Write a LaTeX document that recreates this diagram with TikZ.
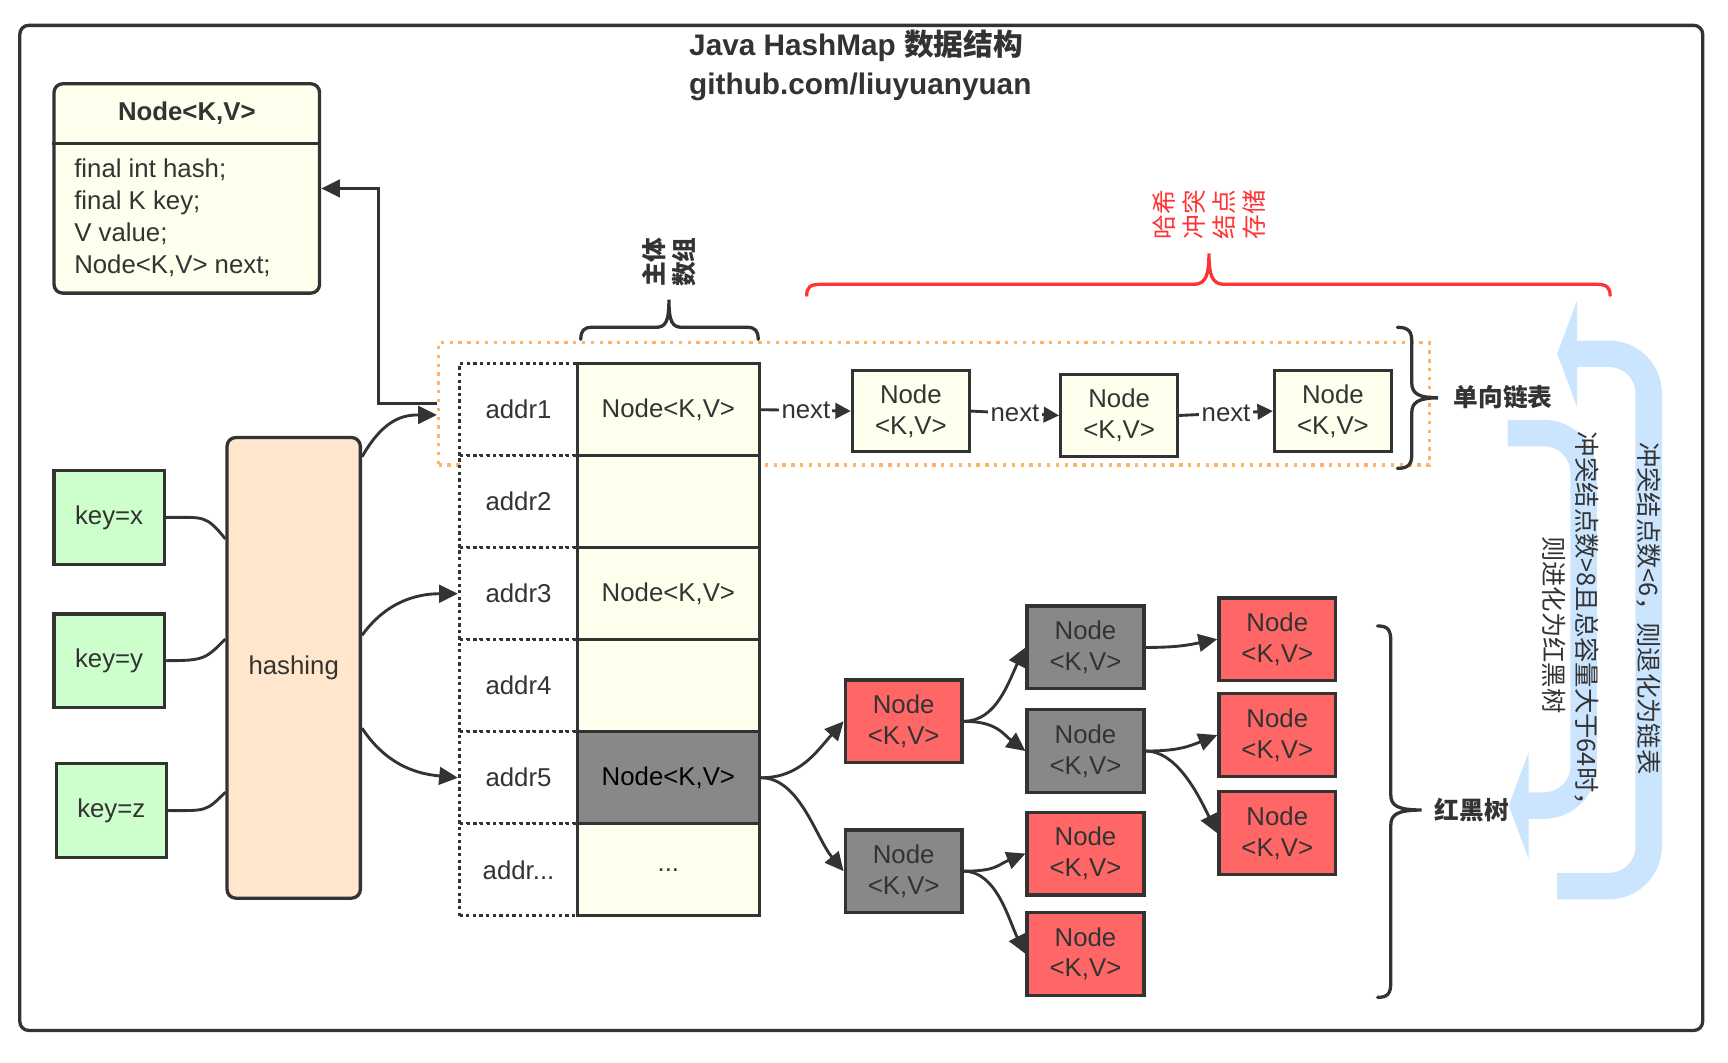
\documentclass[tikz,border=0pt]{standalone}
\usepackage{fontspec}
\setmainfont{Liberation Sans}
\newfontfamily\cjkfam{Noto Sans CJK SC}
\usepackage{tikz}
\usetikzlibrary{calc,arrows.meta}
\definecolor{ink}{RGB}{51,51,51}
\definecolor{cellyellow}{RGB}{255,255,238}
\definecolor{keygreen}{RGB}{204,255,204}
\definecolor{hashpeach}{RGB}{255,230,204}
\definecolor{rbred}{RGB}{255,102,102}
\definecolor{rbgray}{RGB}{136,136,136}
\definecolor{bucketorange}{RGB}{255,179,102}
\definecolor{bracered}{RGB}{255,51,51}
\definecolor{flowblue}{RGB}{204,229,255}
\newcommand{\txtfont}{\fontsize{11.7}{14}\selectfont}
\newcommand{\cjktxt}{\cjkfam\fontsize{11.2}{13.5}\selectfont}
\tikzset{
  box/.style={draw=ink, line width=1.5pt, align=center, text=ink, font=\txtfont, inner sep=0pt},
  keybox/.style={box, fill=keygreen, minimum width=50pt, minimum height=42.5pt},
  listnode/.style={box, fill=cellyellow, minimum width=53pt, minimum height=37pt},
  rednode/.style={box, fill=rbred, minimum width=53pt, minimum height=37.5pt},
  blacknode/.style={box, fill=rbgray, minimum width=53pt, minimum height=37.5pt},
  addrcell/.style={draw=ink, line width=1.5pt, dash pattern=on 1.5pt off 1.5pt, fill=white, text=ink, font=\txtfont, minimum width=53.5pt, minimum height=41.75pt, inner sep=0pt},
  valcell/.style={box, minimum width=82.5pt, minimum height=41.75pt},
  arr/.style={draw=ink, line width=1.3pt, -{Triangle[length=8.5pt,width=8pt]}},
  nextarr/.style={draw=ink, line width=1.3pt, -{Triangle[length=7pt,width=7pt]}},
  link/.style={draw=ink, line width=1.3pt},
  curly/.style={line width=1.5pt, line cap=round},
  flow/.style={draw=flowblue, line width=12pt, rounded corners=18pt, -{Triangle[length=9pt,width=48pt]}},
}

\begin{document}
\begin{tikzpicture}[x=0.5pt,y=0.5pt,yscale=-1,xscale=1]
\useasboundingbox (0,0) rectangle (1568,964);
%Frame
\draw[draw=ink, line width=1.5pt, rounded corners=4pt] (18,23) rectangle (1545,935);
%Title
\node[anchor=west, align=left, inner sep=0pt, text=ink, font=\bfseries\fontsize{13.5}{17.5}\selectfont] (title) at (625,59.5) {Java HashMap {\cjkfam 数据结构}\\github.com/liuyuanyuan};

%Big arrows
\draw[flow] (1413,804) -- (1496,804) -- (1496,321) -- (1413,321);
\draw[flow] (1368,393) -- (1437,393) -- (1437,731) -- (1369,731);
\node[rotate=-90, text=ink, font=\cjkfam\fontsize{11.5}{15}\selectfont] (shrinklabel) at (1496,552) {冲突结点数<6，则退化为链表};
\node[rotate=-90, align=center, text=ink, font=\cjkfam\fontsize{11.5}{15}\selectfont] (growlabel) at (1425,567) {冲突结点数>8且总容量大于64时，\\则进化为红黑树};

%Class box
\node[box, fill=cellyellow, rounded corners=4pt, minimum width=120.5pt, minimum height=95pt] (cls) at (169.5,171) {};
\coordinate (clsdiv) at (0,130);
\draw[draw=ink, line width=1.5pt] (cls.west |- clsdiv) -- (cls.east |- clsdiv);
\node[text=ink, font=\bfseries\txtfont] (clshead) at (169.5,103) {Node<K,V>};
\node[anchor=west, align=left, inner sep=0pt, text=ink, font=\fontsize{11.7}{14.5}\selectfont] (clsbody) at (67,198) {final int hash;\\final K key;\\V value;\\Node<K,V> next;};

%Bucket
\node[draw=bucketorange, line width=1.5pt, dash pattern=on 1.5pt off 2.5pt, minimum width=449.5pt, minimum height=55.5pt] (bucket) at (847.5,366.5) {};

%Array
\foreach \i/\addr/\val/\col/\tc in {1/addr1/{Node<K,V>}/cellyellow/ink, 2/addr2/{}/cellyellow/ink, 3/addr3/{Node<K,V>}/cellyellow/ink, 4/addr4/{}/cellyellow/ink, 5/addr5/{Node<K,V>}/rbgray/black}
{
  \node[addrcell] (a\i) at (470.5,{371.75+83.5*(\i-1)}) {\addr};
  \node[valcell, fill=\col, text=\tc] (v\i) at (606.5,{371.75+83.5*(\i-1)}) {\val};
}
\node[addrcell] (a6) at (470.5,789.25) {addr...};
\node[valcell, fill=cellyellow] (v6) at (606.5,789.25) {...};
\node[rotate=90, align=center, text=ink, font=\bfseries\cjktxt] (arrlabel) at (607,238) {主体\\数组};
\draw[curly, draw=ink] (527,308) .. controls (527,300) and (530,297) .. (537,297) -- (595,297) .. controls (604,297) and (607,292) .. (607,272) .. controls (607,292) and (610,297) .. (619,297) -- (678,297) .. controls (685,297) and (688,300) .. (688,308);

%Keys and hashing
\node[keybox] (kx) at (99,469.5) {key=x};
\node[keybox] (ky) at (99,599.5) {key=y};
\node[keybox] (kz) at (101,735.5) {key=z};
\node[box, fill=hashpeach, rounded corners=4pt, minimum width=60.5pt, minimum height=209pt] (hash) at (266.5,606) {hashing};
\draw[link] (kx.east) .. controls +(35,0) and +(-18,-22) .. ($(hash.north west)!0.222!(hash.south west)$);
\draw[link] (ky.east) .. controls +(35,0) and +(-18,18) .. ($(hash.north west)!0.438!(hash.south west)$);
\draw[link] (kz.east) .. controls +(35,0) and +(-18,18) .. ($(hash.north west)!0.768!(hash.south west)$);
\draw[arr] ($(hash.north east)!0.045!(hash.south east)$) .. controls +(20,-35) and +(-30,0) .. ($(bucket.west)+(0,10)$);
\draw[arr] ($(hash.north east)!0.43!(hash.south east)$) .. controls +(25,-35) and +(-30,0) .. (a3.west);
\draw[arr] ($(hash.north east)!0.63!(hash.south east)$) .. controls +(25,38) and +(-30,-3) .. (a5.west);
\draw[arr] (bucket.west) -- ++(-53,0) |- (cls.east);

%Linked list
\node[listnode] (l1) at (826.5,373) {Node\\<K,V>};
\node[listnode] (l2) at (1015.5,377) {Node\\<K,V>};
\node[listnode] (l3) at (1209.5,373) {Node\\<K,V>};
\draw[nextarr] (v1.east) -- node[fill=white, inner sep=1pt, text=ink, font=\txtfont] {next} (l1.west);
\draw[nextarr] (l1.east) -- node[fill=white, inner sep=1pt, text=ink, font=\txtfont] {next} (l2.west);
\draw[nextarr] (l2.east) -- node[fill=white, inner sep=1pt, text=ink, font=\txtfont] {next} (l3.west);
\draw[curly, draw=ink] (1268,297) .. controls (1277,297) and (1281,300) .. (1281,309) -- (1281,347) .. controls (1281,357) and (1287,361) .. (1305,361) .. controls (1287,361) and (1281,365) .. (1281,375) -- (1281,413) .. controls (1281,422) and (1277,425) .. (1268,425);
\node[anchor=west, text=ink, font=\bfseries\cjktxt] (listlabel) at (1312,360) {单向链表};

%Collision label
\draw[curly, draw=bracered] (732,268) .. controls (732,261) and (735,258) .. (744,258) -- (1083,258) .. controls (1094,258) and (1097,250) .. (1097,230) .. controls (1097,250) and (1100,258) .. (1111,258) -- (1449,258) .. controls (1458,258) and (1461,261) .. (1461,268);
\node[rotate=90, align=center, text=bracered, font=\cjktxt] (hashlabel) at (1097,195) {哈希\\冲突\\结点\\存储};

%Red-black tree
\node[rednode] (t1) at (820,654.5) {Node\\<K,V>};
\node[blacknode] (t2) at (820,790.5) {Node\\<K,V>};
\node[blacknode] (t3) at (985,587.5) {Node\\<K,V>};
\node[blacknode] (t4) at (985,681.5) {Node\\<K,V>};
\node[rednode] (t5) at (985,774.5) {Node\\<K,V>};
\node[rednode] (t6) at (985,865.5) {Node\\<K,V>};
\node[rednode] (t7) at (1159,580) {Node\\<K,V>};
\node[rednode] (t8) at (1159,667) {Node\\<K,V>};
\node[rednode] (t9) at (1159,756) {Node\\<K,V>};
\draw[arr] (v5.east) .. controls +(35,0) and +(-25,28) .. (t1.west);
\draw[arr] (v5.east) .. controls +(35,0) and +(-25,-30) .. (t2.west);
\draw[arr] (t1.east) .. controls +(30,0) and +(-15,30) .. (t3.west);
\draw[arr] (t1.east) .. controls +(30,0) and +(-20,-15) .. (t4.west);
\draw[arr] (t3.east) .. controls +(30,0) and +(-25,5) .. (t7.west);
\draw[arr] (t4.east) .. controls +(30,0) and +(-25,10) .. (t8.west);
\draw[arr] (t4.east) .. controls +(30,0) and +(-15,-30) .. (t9.west);
\draw[arr] (t2.east) .. controls +(30,0) and +(-25,10) .. (t5.west);
\draw[arr] (t2.east) .. controls +(30,0) and +(-15,-30) .. (t6.west);
\draw[curly, draw=ink] (1250,568) .. controls (1259,568) and (1262,571) .. (1262,582) -- (1262,721) .. controls (1262,731) and (1268,735) .. (1290,735) .. controls (1268,735) and (1262,739) .. (1262,749) -- (1262,891) .. controls (1262,902) and (1259,905) .. (1250,905);
\node[anchor=west, text=ink, font=\bfseries\cjktxt] (treelabel) at (1295,735) {红黑树};
\end{tikzpicture}
\end{document}
